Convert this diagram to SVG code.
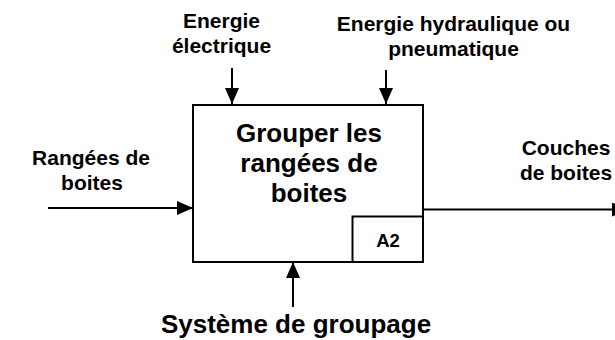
<svg xmlns="http://www.w3.org/2000/svg" width="615" height="340" viewBox="0 0 615 340">
<style>
text{font-family:"Liberation Sans",Arial,sans-serif;font-weight:bold;fill:#000;text-anchor:middle}
.s{font-size:21px}
.t{font-size:26px}
.a{font-size:18.5px}
.line{stroke:#000;stroke-width:2;fill:none}
.box{stroke:#000;stroke-width:2;fill:#fff}
</style>
<defs>
<marker id="ah" viewBox="0 0 16 14" refX="16" refY="7" markerWidth="16" markerHeight="14" markerUnits="userSpaceOnUse" orient="auto">
<path d="M0,0 L16,7 L0,14 Z" fill="#000"/>
</marker>
</defs>
<rect width="615" height="340" fill="#fff"/>
<g id="node-A2">
<rect class="box" x="193" y="105" width="230" height="157"/>
<rect class="box" x="352.5" y="216.5" width="70.5" height="45.5"/>
<text class="t" x="309" y="142">Grouper les</text>
<text class="t" x="309" y="172">rangées de</text>
<text class="t" x="309" y="202">boites</text>
<text class="a" x="388" y="247">A2</text>
</g>
<g id="labels">
<text class="s" x="221.5" y="28">Energie</text>
<text class="s" x="221.5" y="53">électrique</text>
<text class="s" x="453.5" y="31">Energie hydraulique ou</text>
<text class="s" x="453.5" y="56">pneumatique</text>
<text class="s" x="91" y="165">Rangées de</text>
<text class="s" x="92" y="190">boites</text>
<text class="s" x="566" y="155">Couches</text>
<text class="s" x="566" y="180">de boites</text>
<text class="t" x="296" y="333">Système de groupage</text>
</g>
<g id="connectors">
<line class="line" x1="232" y1="68" x2="232" y2="104" marker-end="url(#ah)"/>
<line class="line" x1="386" y1="70" x2="386" y2="104" marker-end="url(#ah)"/>
<line class="line" x1="48" y1="208" x2="193" y2="208" marker-end="url(#ah)"/>
<line class="line" x1="293" y1="307" x2="293" y2="262" marker-end="url(#ah)"/>
<line class="line" x1="423" y1="209.5" x2="628" y2="209.5" marker-end="url(#ah)"/>
</g>
</svg>
